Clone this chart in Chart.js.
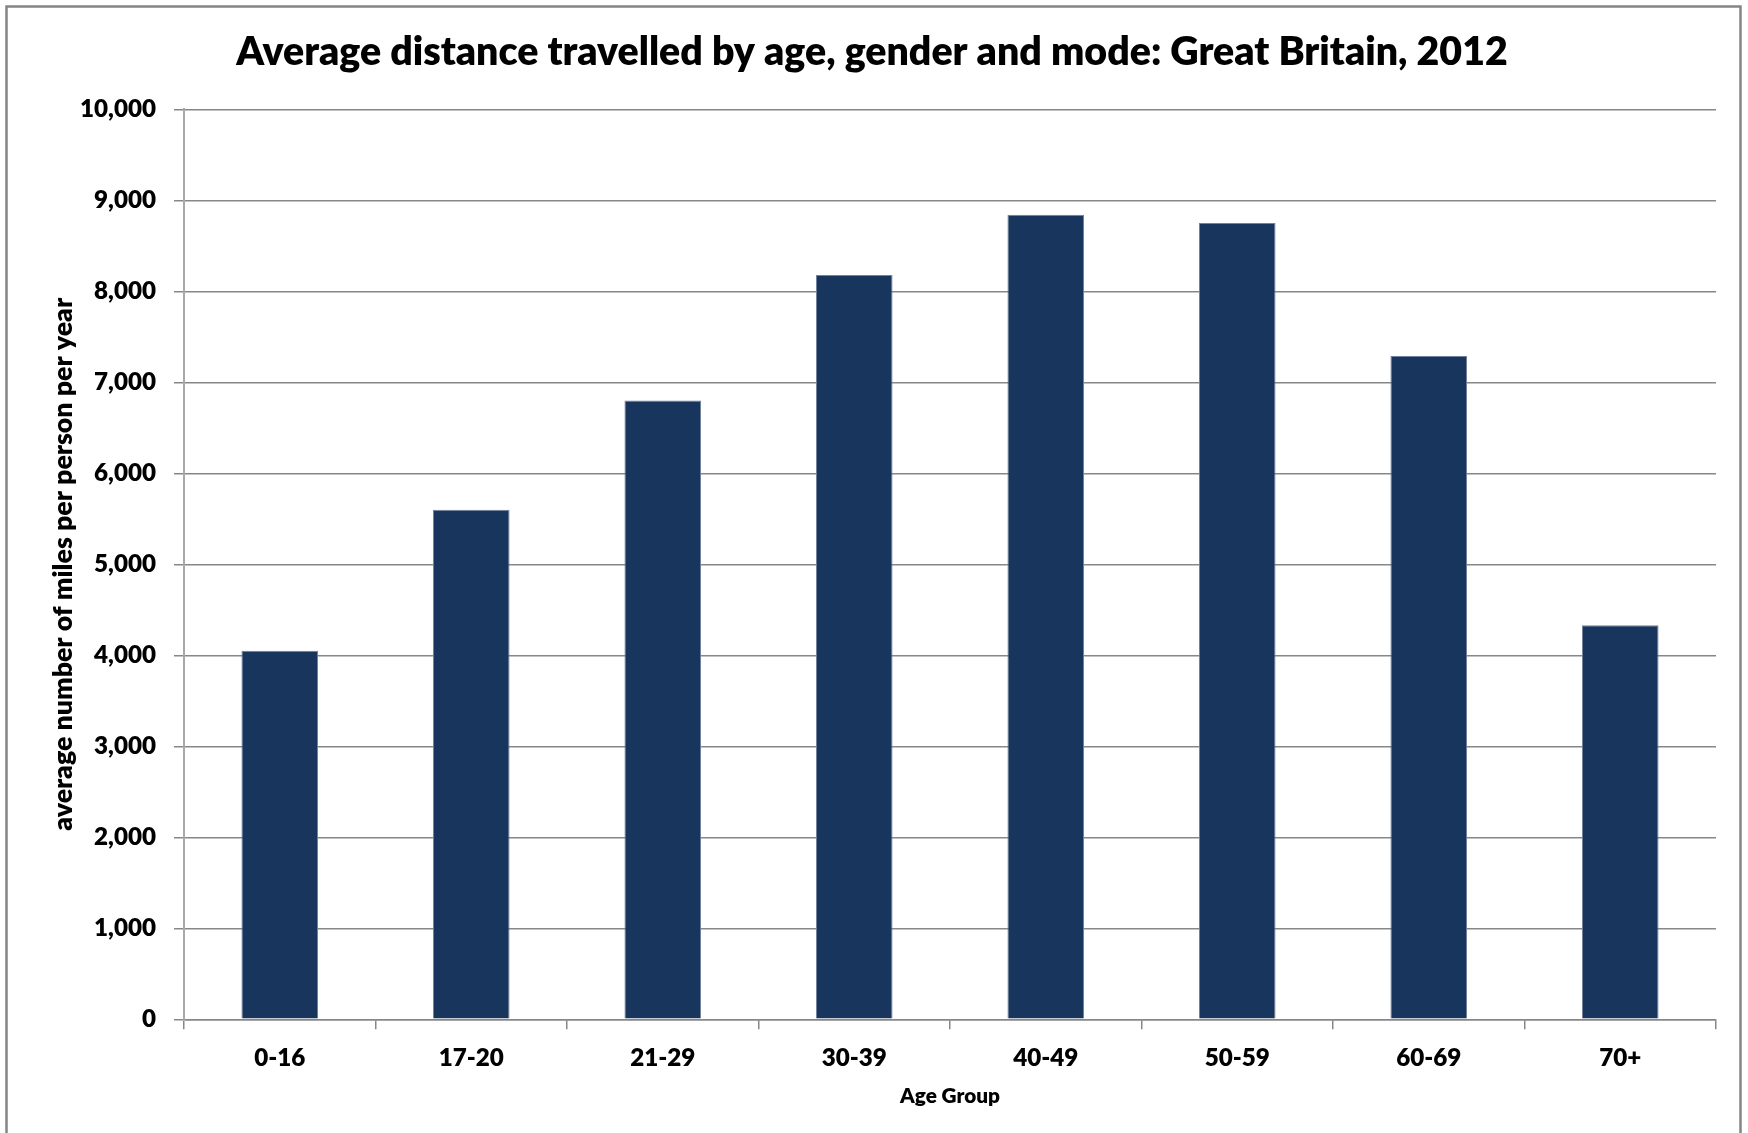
<!DOCTYPE html>
<html>
<head>
<meta charset="utf-8">
<title>Average distance travelled by age</title>
<script src="https://cdn.jsdelivr.net/npm/chart.js@4/dist/chart.umd.min.js"></script>
<style>
  html, body { margin: 0; padding: 0; background: #fff; overflow: hidden; }
  #wrap { position: relative; width: 1748px; height: 1133px; }
  canvas { display: block; }
</style>
</head>
<body>
<div id="wrap"><canvas id="chart" width="1748" height="1133"></canvas></div>
<script>
// ---- data ----
const ageGroups = ['0-16', '17-20', '21-29', '30-39', '40-49', '50-59', '60-69', '70+'];
const milesPerPerson = [4050, 5600, 6800, 8180, 8840, 8750, 7290, 4330];
const yMin = 0;
const yMax = 10000;
const yStep = 1000;

const chartTitle = 'Average distance travelled by age, gender and mode: Great Britain, 2012';
const xAxisTitle = 'Age Group';
const yAxisTitle = 'average number of miles per person per year';

// ---- styling ----
const FAMILY = 'Lato, "Open Sans", "DejaVu Sans", sans-serif';
const WEIGHT = '800';
const BAR_FILL = '#18365d';
const BAR_EDGE = '#71819b';
const GRID = '#878787';

// pick a font size that makes the text occupy the given width
function fitSize(text, width) {
  const ctx = document.createElement('canvas').getContext('2d');
  ctx.font = WEIGHT + ' 100px ' + FAMILY;
  return 100 * width / ctx.measureText(text).width;
}

const thousands = new Intl.NumberFormat('en-GB');

// white page and the grey chart frame
const framePlugin = {
  id: 'frame',
  beforeDraw(chart) {
    const ctx = chart.ctx;
    ctx.save();
    ctx.fillStyle = '#fff';
    ctx.fillRect(0, 0, chart.width, chart.height);
    ctx.restore();
  },
  afterDraw(chart) {
    const ctx = chart.ctx;
    ctx.save();
    ctx.strokeStyle = '#858585';
    ctx.lineWidth = 2.5;
    ctx.strokeRect(6.5, 6.5, chart.width - 14, chart.height + 20);
    ctx.restore();
  }
};

function build() {
  const titleSize = fitSize(chartTitle, 1272);
  const tickSize = fitSize('8,000', 62);
  const xTitleSize = fitSize(xAxisTitle, 100);
  const yTitleSize = fitSize(yAxisTitle, 533);

  const plotTop = 109.3;
  const plotBottom = 1019.3;
  const plotLeft = 184;
  const plotRight = 1716;
  const W = 1748, H = 1133;
  const padLeft = 28;
  const padRight = W - plotRight;

  const titleLH = titleSize * 1.2;
  const titleTop = 52 - titleLH / 2;
  const titleBottom = plotTop - titleTop - titleLH;

  const tickLH = tickSize * 1.2;
  const xTickPad = 1058 - plotBottom - 10 - tickLH / 2;
  const xTitleLH = xTitleSize * 1.2;
  const xTitlePad = (H - 1096) - xTitleLH / 2;
  const yTitleLH = yTitleSize * 1.2;
  const yTitlePad = 63 - padLeft - yTitleLH / 2;

  const font = (size) => ({ family: FAMILY, weight: WEIGHT, size: size, lineHeight: 1.2 });

  new Chart(document.getElementById('chart'), {
    type: 'bar',
    data: {
      labels: ageGroups,
      datasets: [{
        data: milesPerPerson,
        backgroundColor: BAR_FILL,
        borderColor: BAR_EDGE,
        borderWidth: 1,
        barPercentage: 0.4,
        categoryPercentage: 1.0
      }]
    },
    options: {
      responsive: false,
      animation: false,
      devicePixelRatio: 1,
      layout: { padding: { left: padLeft, right: padRight, top: 0, bottom: 0 } },
      plugins: {
        legend: { display: false },
        tooltip: { enabled: false },
        title: {
          display: true,
          text: chartTitle,
          color: '#000',
          font: font(titleSize),
          padding: { top: titleTop, bottom: titleBottom }
        }
      },
      scales: {
        x: {
          type: 'category',
          offset: true,
          grid: {
            display: true,
            offset: true,
            drawOnChartArea: false,
            drawTicks: true,
            tickLength: 10,
            color: GRID,
            lineWidth: 1.5
          },
          border: { display: true, color: GRID, width: 1.5 },
          ticks: {
            color: '#000',
            autoSkip: false,
            maxRotation: 0,
            padding: xTickPad,
            font: font(tickSize)
          },
          title: {
            display: true,
            text: xAxisTitle,
            color: '#000',
            font: font(xTitleSize),
            padding: { top: 0, bottom: xTitlePad }
          },
          afterFit(scale) { scale.height = H - plotBottom; }
        },
        y: {
          min: yMin,
          max: yMax,
          grid: { color: GRID, lineWidth: 1.5, tickLength: 10 },
          border: { display: true, color: '#a8a8a8', width: 2 },
          ticks: {
            stepSize: yStep,
            color: '#000',
            padding: 18,
            font: font(tickSize),
            callback: (v) => thousands.format(v)
          },
          title: {
            display: true,
            text: yAxisTitle,
            color: '#000',
            font: font(yTitleSize),
            padding: { top: yTitlePad, bottom: 0 }
          },
          afterFit(scale) { scale.width = plotLeft - padLeft; }
        }
      }
    },
    plugins: [framePlugin]
  });
}

if (document.fonts && document.fonts.load) {
  document.fonts.load(WEIGHT + ' 20px Lato').then(build, build);
} else {
  build();
}
</script>
</body>
</html>
